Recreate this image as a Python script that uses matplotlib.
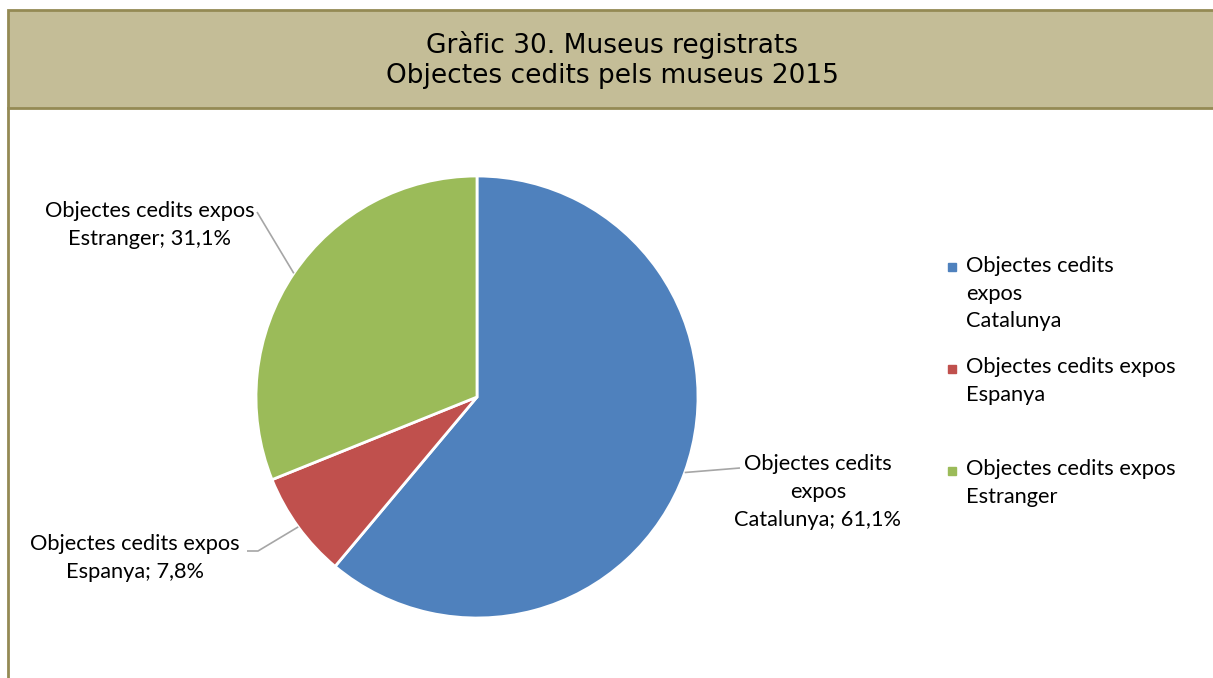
import numpy as np
import matplotlib
matplotlib.use("Agg")
import matplotlib.pyplot as plt
from matplotlib.patches import Rectangle

categories = ["Objectes cedits expos Catalunya",
              "Objectes cedits expos Espanya",
              "Objectes cedits expos Estranger"]
values = [61.1, 7.8, 31.1]
colors = ["#4F81BD", "#C0504D", "#9BBB59"]
legend_labels = ["Objectes cedits\nexpos\nCatalunya",
                 "Objectes cedits expos\nEspanya",
                 "Objectes cedits expos\nEstranger"]
data_labels = ["Objectes cedits\nexpos\nCatalunya; 61,1%",
               "Objectes cedits expos\nEspanya; 7,8%",
               "Objectes cedits expos\nEstranger; 31,1%"]
title = "Gràfic 30. Museus registrats\nObjectes cedits pels museus 2015"

W, H = 1213, 678
fig = plt.figure(figsize=(W / 100, H / 100), dpi=100)
ax = fig.add_axes([0, 0, 1, 1])

def Y(y):
    return H - y

label_font = "Lato"
fs = 15.7
lsp = 1.48
line_h = 28.5

# pie in pixel coordinates
cx, cy, r = 477, 397, 221
wedges, _ = ax.pie(values, colors=colors, startangle=90, counterclock=False,
                   center=(cx, Y(cy)), radius=r,
                   wedgeprops=dict(edgecolor="white", linewidth=2))
ax.set_xlim(0, W)
ax.set_ylim(0, H)
ax.set_aspect("equal")
ax.axis("off")

# data labels with leader lines
text_pos = [(818, 492), (135, 558), (150, 225)]
bends = [[(740, 468)], [(258, 551), (247, 551)], [(257, 212)]]
for w, lab, (tx, ty), bend in zip(wedges, data_labels, text_pos, bends):
    ang = np.deg2rad((w.theta1 + w.theta2) / 2)
    px, py = cx + r * np.cos(ang), Y(cy) + r * np.sin(ang)
    xs = [px] + [b[0] for b in bend]
    ys = [py] + [Y(b[1]) for b in bend]
    ax.plot(xs, ys, color="#A6A6A6", lw=1.2, solid_capstyle="butt")
    ax.text(tx, Y(ty), lab, ha="center", va="center", fontsize=fs,
            family=label_font, linespacing=lsp)

# legend
leg_y = [267, 369, 471]
for c, lab, y in zip(colors, legend_labels, leg_y):
    n = lab.count("\n") + 1
    ax.plot([952], [Y(y)], marker="s", markersize=6, color=c, ls="none")
    ax.text(966, Y(y - 2 + (n - 1) * line_h / 2), lab, ha="left", va="center",
            fontsize=fs, family=label_font, linespacing=lsp)

# title band
ax.add_patch(Rectangle((8, Y(108)), W + 10, 98, facecolor="#C4BD97",
                       edgecolor="#948A54", lw=2, clip_on=False))
ax.plot([8, 8], [Y(108), 0], color="#948A54", lw=2)
ax.text(612, Y(60), title, ha="center", va="center", fontsize=19,
        family="DejaVu Sans", linespacing=1.2)

fig.savefig("out.png", dpi=100)
